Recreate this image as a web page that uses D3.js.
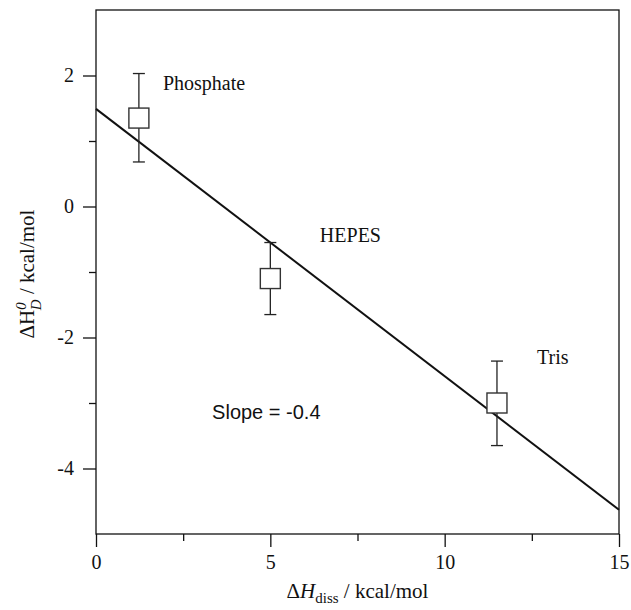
<!DOCTYPE html>
<html>
<head>
<meta charset="utf-8">
<script src="https://cdn.jsdelivr.net/npm/d3@7"></script>
<style>
	body { margin: 0; background: #fff; }
	svg text { font-family: "Liberation Serif", "DejaVu Serif", serif; fill: #111; }
</style>
</head>
<body>
<svg id="chart" width="631" height="610"></svg>
<script>
// buffers and their measured values
var buffers = ["Phosphate", "HEPES", "Tris"];
var dHdiss = [1.23, 5.0, 11.5];
var dHD = [1.35, -1.1, -3.0];
var errHigh = [2.03, -0.55, -2.36];
var errLow = [0.68, -1.65, -3.65];

// fitted line end points
var fitX = [0, 15];
var fitY = [1.49, -4.63];

var xTicks = [0, 5, 10, 15];
var xMinor = [2.5, 7.5, 12.5];
var yTicks = [2, 0, -2, -4];
var yMinor = [1, -1, -3];

// label anchors (data coords)
var labelX = [1.92, 6.42, 12.65];
var labelY = [1.78, -0.54, -2.4];

var svg = d3.select("#chart"),
	margin = { top: 10, left: 96, right: 12, bottom: 76 },
	width = +svg.attr("width"),
	height = +svg.attr("height");

var x = d3.scaleLinear().domain([0, 15]).range([margin.left, width - margin.right]);
var y = d3.scaleLinear().domain([-5, 3]).range([height - margin.bottom, margin.top]);

var ink = "#111";

// frame
svg.append("rect")
	.attr("x", x(0)).attr("y", y(3))
	.attr("width", x(15) - x(0)).attr("height", y(-5) - y(3))
	.attr("fill", "none").attr("stroke", ink).attr("stroke-width", 1.3);

// axes
var fmt = function(d) { return String(d); };
svg.append("g").attr("transform", "translate(0," + y(-5) + ")")
	.call(d3.axisBottom(x).tickValues(xTicks).tickSize(13).tickPadding(8).tickFormat(fmt));
svg.append("g").attr("transform", "translate(0," + y(-5) + ")")
	.call(d3.axisBottom(x).tickValues(xMinor).tickSize(7).tickFormat(""));
svg.append("g").attr("transform", "translate(" + x(0) + ",0)")
	.call(d3.axisLeft(y).tickValues(yTicks).tickSize(13).tickPadding(9).tickFormat(fmt));
svg.append("g").attr("transform", "translate(" + x(0) + ",0)")
	.call(d3.axisLeft(y).tickValues(yMinor).tickSize(7).tickFormat(""));

svg.selectAll(".domain").remove();
svg.selectAll(".tick line").attr("stroke", ink).attr("stroke-width", 1.3);
svg.selectAll(".tick text").style("font-family", "Liberation Serif").style("font-size", "20px").attr("fill", ink);

// fit line
svg.append("line")
	.attr("x1", x(fitX[0])).attr("y1", y(fitY[0]))
	.attr("x2", x(fitX[1])).attr("y2", y(fitY[1]))
	.attr("stroke", ink).attr("stroke-width", 2);

// error bars
var g_err = svg.append("g").attr("stroke", "#222").attr("stroke-width", 1.3);
buffers.forEach(function(b, i) {
	g_err.append("line")
		.attr("x1", x(dHdiss[i])).attr("x2", x(dHdiss[i]))
		.attr("y1", y(errHigh[i])).attr("y2", y(errLow[i]));
	[errHigh[i], errLow[i]].forEach(function(v) {
		g_err.append("line")
			.attr("x1", x(dHdiss[i]) - 6).attr("x2", x(dHdiss[i]) + 6)
			.attr("y1", y(v)).attr("y2", y(v));
	});
});

// square markers
svg.append("g").selectAll("rect").data(buffers).enter().append("rect")
	.attr("x", function(d, i) { return x(dHdiss[i]) - 10; })
	.attr("y", function(d, i) { return y(dHD[i]) - 10; })
	.attr("width", 20).attr("height", 20)
	.attr("fill", "#fff").attr("stroke", "#333").attr("stroke-width", 1.4);

// buffer labels
svg.append("g").selectAll("text").data(buffers).enter().append("text")
	.attr("x", function(d, i) { return x(labelX[i]); })
	.attr("y", function(d, i) { return y(labelY[i]); })
	.style("font-size", "20px")
	.text(function(d) { return d; });

svg.append("text")
	.attr("x", x(3.33)).attr("y", y(-3.24))
	.style("font-family", "Liberation Sans")
	.style("font-size", "20px")
	.text("Slope = -0.4");

// x title
var xt = svg.append("text")
	.attr("x", x(7.5)).attr("y", 598)
	.attr("text-anchor", "middle")
	.style("font-size", "21px");
xt.append("tspan").text("\u0394");
xt.append("tspan").style("font-style", "italic").text("H");
xt.append("tspan").attr("dy", 5).style("font-size", "15px").text("diss");
xt.append("tspan").attr("dy", -5).text(" / kcal/mol");

// y title
var yt = svg.append("text")
	.attr("transform", "translate(34," + y(-1.03) + ") rotate(-90)")
	.attr("text-anchor", "middle")
	.style("font-size", "21px");
yt.append("tspan").text("\u0394H");
yt.append("tspan").attr("dy", -8).style("font-size", "15px").style("font-style", "italic").text("0");
yt.append("tspan").attr("dx", -8).attr("dy", 15).style("font-size", "15px").style("font-style", "italic").text("D");
yt.append("tspan").attr("dy", -7).text(" / kcal/mol");
</script>
</body>
</html>
